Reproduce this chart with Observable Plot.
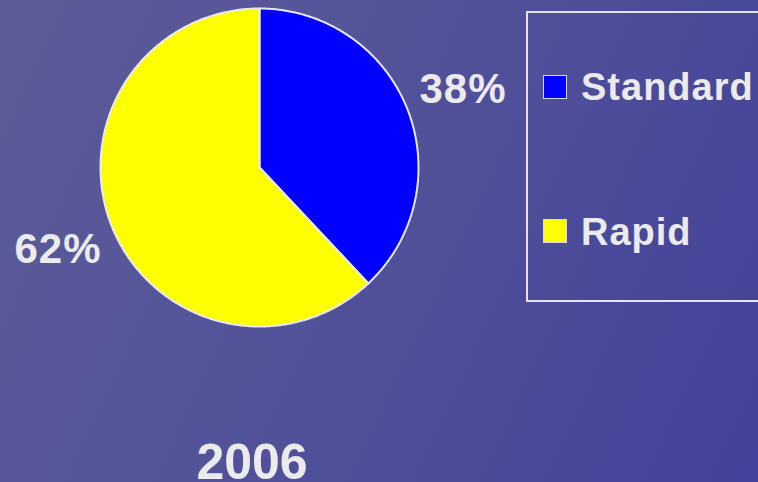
<!DOCTYPE html>
<html>
<head>
<meta charset="utf-8">
<script src="https://cdn.jsdelivr.net/npm/d3@7"></script>
<script src="https://cdn.jsdelivr.net/npm/@observablehq/plot@0.6"></script>
<style>
  body { margin: 0; }
  #wrap {
    position: relative; width: 758px; height: 482px; overflow: hidden;
    background: linear-gradient(115deg, #5c5c98 0%, #51519a 50%, #42429a 100%);
    font-family: "Liberation Sans", Arial, sans-serif; font-weight: bold; color: #ebebeb;
  }
  #chart { position: absolute; left: 0; top: 0; }
  .legend-box { position: absolute; left: 526px; top: 11px; width: 300px; height: 291px; border: 2px solid #e4e4f0; box-sizing: border-box; }
  .swatch { position: absolute; width: 22px; height: 22px; border: 1px solid #d8d8ea; }
  .ltext { position: absolute; font-size: 38px; line-height: 38px; white-space: nowrap; letter-spacing: 1px; }
  .year { position: absolute; left: 152px; width: 200px; text-align: center; font-size: 50px; line-height: 40px; }
  #chart text { letter-spacing: 1px; }
</style>
</head>
<body>
<div id="wrap"><div id="chart"></div></div>
<script>
const categories = ["Standard", "Rapid"];
const shares = [38, 62];
const colors = ["#0000ff", "#ffff00"];
const shareLabels = ["38%", "62%"];
const yearLabel = "2006";

const pie = d3.pie().sort(null).value(d => d)(shares);
const pts = [];
pie.forEach((s, i) => {
  const cat = categories[i];
  pts.push({cat, x: 0, y: 0});
  const n = Math.max(2, Math.ceil((s.endAngle - s.startAngle) / (Math.PI / 360)));
  for (let k = 0; k <= n; k++) {
    const a = s.startAngle + (s.endAngle - s.startAngle) * k / n;
    pts.push({cat, x: Math.sin(a), y: Math.cos(a)});
  }
  pts.push({cat, x: 0, y: 0});
});
const labels = pie.map((s, i) => {
  const a = (s.startAngle + s.endAngle) / 2;
  return {text: shareLabels[i], x: 1.37 * Math.sin(a), y: 1.37 * Math.cos(a)};
});

const plot = Plot.plot({
  width: 758, height: 482, margin: 0,
  x: {domain: [-1, 1], range: [100, 418], axis: null},
  y: {domain: [-1, 1], range: [326, 8], axis: null},
  color: {domain: categories, range: colors},
  style: {background: "transparent", overflow: "visible"},
  marks: [
    Plot.line(pts, {x: "x", y: "y", z: "cat", fill: "cat", stroke: "#e8e8f4", strokeWidth: 2, strokeLinejoin: "round"}),
    Plot.text(labels, {x: "x", y: "y", dx: 1, dy: 2, text: "text", fontSize: 42, fontWeight: "bold", fill: "#ebebeb",
      fontFamily: "Liberation Sans, Arial, sans-serif"})
  ]
});
document.getElementById("chart").appendChild(plot);

const wrap = document.getElementById("wrap");
const box = document.createElement("div");
box.className = "legend-box";
wrap.appendChild(box);
const itemTops = [75, 219];
const baselines = [100, 245];
categories.forEach((c, i) => {
  const sw = document.createElement("div");
  sw.className = "swatch";
  sw.style.left = "543px";
  sw.style.top = itemTops[i] + "px";
  sw.style.background = colors[i];
  wrap.appendChild(sw);
  const t = document.createElement("div");
  t.className = "ltext";
  t.style.left = "581px";
  t.style.top = (baselines[i] - 32.2) + "px";
  t.textContent = c;
  wrap.appendChild(t);
});
const yr = document.createElement("div");
yr.className = "year";
yr.style.top = (479 - 37.3) + "px";
yr.textContent = yearLabel;
wrap.appendChild(yr);
</script>
</body>
</html>
